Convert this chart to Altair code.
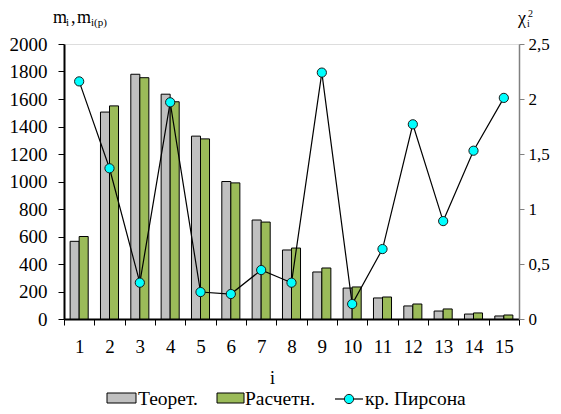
import altair as alt
import pandas as pd

idx = list(range(1, 16))
teoret = [565, 1505, 1780, 1635, 1330, 1000, 720, 502, 342, 225, 153, 95, 58, 36, 22]
raschet = [600, 1550, 1755, 1580, 1310, 990, 705, 516, 371, 233, 160, 109, 73, 44, 29]
pearson = [2.16, 1.37, 0.33, 1.97, 0.245, 0.227, 0.445, 0.33, 2.24, 0.136, 0.636, 1.77, 0.89, 1.53, 2.01]

series_names = ["Теорет.", "Расчетн."]
colors = ["#C0C0C0", "#9BBB59"]

bars_df = pd.DataFrame(
    [{"i": i, "s": series_names[0], "v": a} for i, a in zip(idx, teoret)]
    + [{"i": i, "s": series_names[1], "v": b} for i, b in zip(idx, raschet)]
)
line_df = pd.DataFrame({"i": idx, "chi": pearson})

FONT = "'Liberation Serif', 'Times New Roman', Times, 'DejaVu Serif', serif"
W, H = 455, 275

xenc = alt.X(
    "i:O",
    scale=alt.Scale(paddingInner=0, paddingOuter=0),
    axis=alt.Axis(
        title=None, labelAngle=0, tickBand="extent", domainColor="black",
        domainWidth=2, tickColor="black", tickSize=6, labelPadding=12,
        labelFont=FONT, labelFontSize=19, labelColor="black",
    ),
)

bars = alt.Chart(bars_df).mark_bar(stroke="black", strokeWidth=1).encode(
    x=xenc,
    xOffset=alt.XOffset("s:N", sort=series_names,
                        scale=alt.Scale(paddingOuter=0.68, paddingInner=0)),
    y=alt.Y("v:Q", scale=alt.Scale(domain=[0, 2000]),
            axis=alt.Axis(title=None, values=list(range(0, 2001, 200)), grid=False,
                          format="d",
                          domainColor="black", domainWidth=2, tickColor="black",
                          tickSize=6, labelPadding=11, labelFont=FONT,
                          labelFontSize=19, labelColor="black")),
    color=alt.Color("s:N", sort=series_names,
                    scale=alt.Scale(domain=series_names, range=colors), legend=None),
)

line = alt.Chart(line_df).mark_line(color="black", strokeWidth=1.2).encode(
    x=alt.X("i:O"),
    y=alt.Y("chi:Q", scale=alt.Scale(domain=[0, 2.5]),
            axis=alt.Axis(title=None, orient="right", values=[0, 0.5, 1, 1.5, 2, 2.5],
                          format="~g", labelExpr="replace(datum.label, '.', ',')",
                          grid=False, domainColor="#808080", domainWidth=1.5,
                          tickColor="#808080", tickSize=5, labelPadding=4,
                          labelFont=FONT, labelFontSize=17, labelColor="black")),
)
pts = alt.Chart(line_df).mark_point(filled=True, fill="#00FFFF", stroke="#1a1a1a",
                                    strokeWidth=1, size=85, opacity=1).encode(
    x=alt.X("i:O"),
    y=alt.Y("chi:Q", scale=alt.Scale(domain=[0, 2.5]), axis=None),
)

one = pd.DataFrame({"k": [0]})
OX, OY = 64, 44  # plot origin on the page


def txt(t, x, y, size, align="left"):
    return alt.Chart(one).mark_text(
        text=t, font=FONT, fontSize=size, color="black", align=align,
        baseline="alphabetic",
    ).encode(x=alt.value(x - OX), y=alt.value(y - OY))


def box(x1, x2, y1, y2, c):
    return alt.Chart(one).mark_rect(fill=c, stroke="black", strokeWidth=1).encode(
        x=alt.value(x1 - OX), x2=alt.value(x2 - OX),
        y=alt.value(y1 - OY), y2=alt.value(y2 - OY))


annot = [
    txt("m", 53, 23, 18), txt("i", 66, 26, 11), txt(",", 71, 23, 18),
    txt("m", 77, 23, 18), txt("i(p)", 91, 26, 11),
    txt("χ", 518, 24, 18), txt("2", 528, 17, 10), txt("i", 527, 27, 10),
    txt("i", 270, 384, 18),
    box(107, 136, 393, 403, colors[0]), txt(series_names[0], 138, 405, 19.5),
    box(217, 244, 393, 403, colors[1]), txt(series_names[1], 245, 405, 19.5),
    alt.Chart(one).mark_rule(color="black", strokeWidth=1.2).encode(
        x=alt.value(335 - OX), x2=alt.value(363 - OX), y=alt.value(399 - OY)),
    alt.Chart(one).mark_point(filled=True, fill="#00FFFF", stroke="#1a1a1a",
                              strokeWidth=1, size=85, opacity=1).encode(
        x=alt.value(349 - OX), y=alt.value(399 - OY)),
    txt("кр. Пирсона", 365, 405, 19.5),
]

chart = alt.layer(bars, line, pts, *annot).resolve_scale(y="independent").properties(
    width=W, height=H,
    autosize=alt.AutoSizeParams(type="none"),
    padding={"left": 56, "top": 36, "right": 34, "bottom": 92},
).configure_view(stroke="#808080", strokeWidth=1.5).configure(background="white")

chart.save("out.html", embed_options={"renderer": "svg", "actions": False})
